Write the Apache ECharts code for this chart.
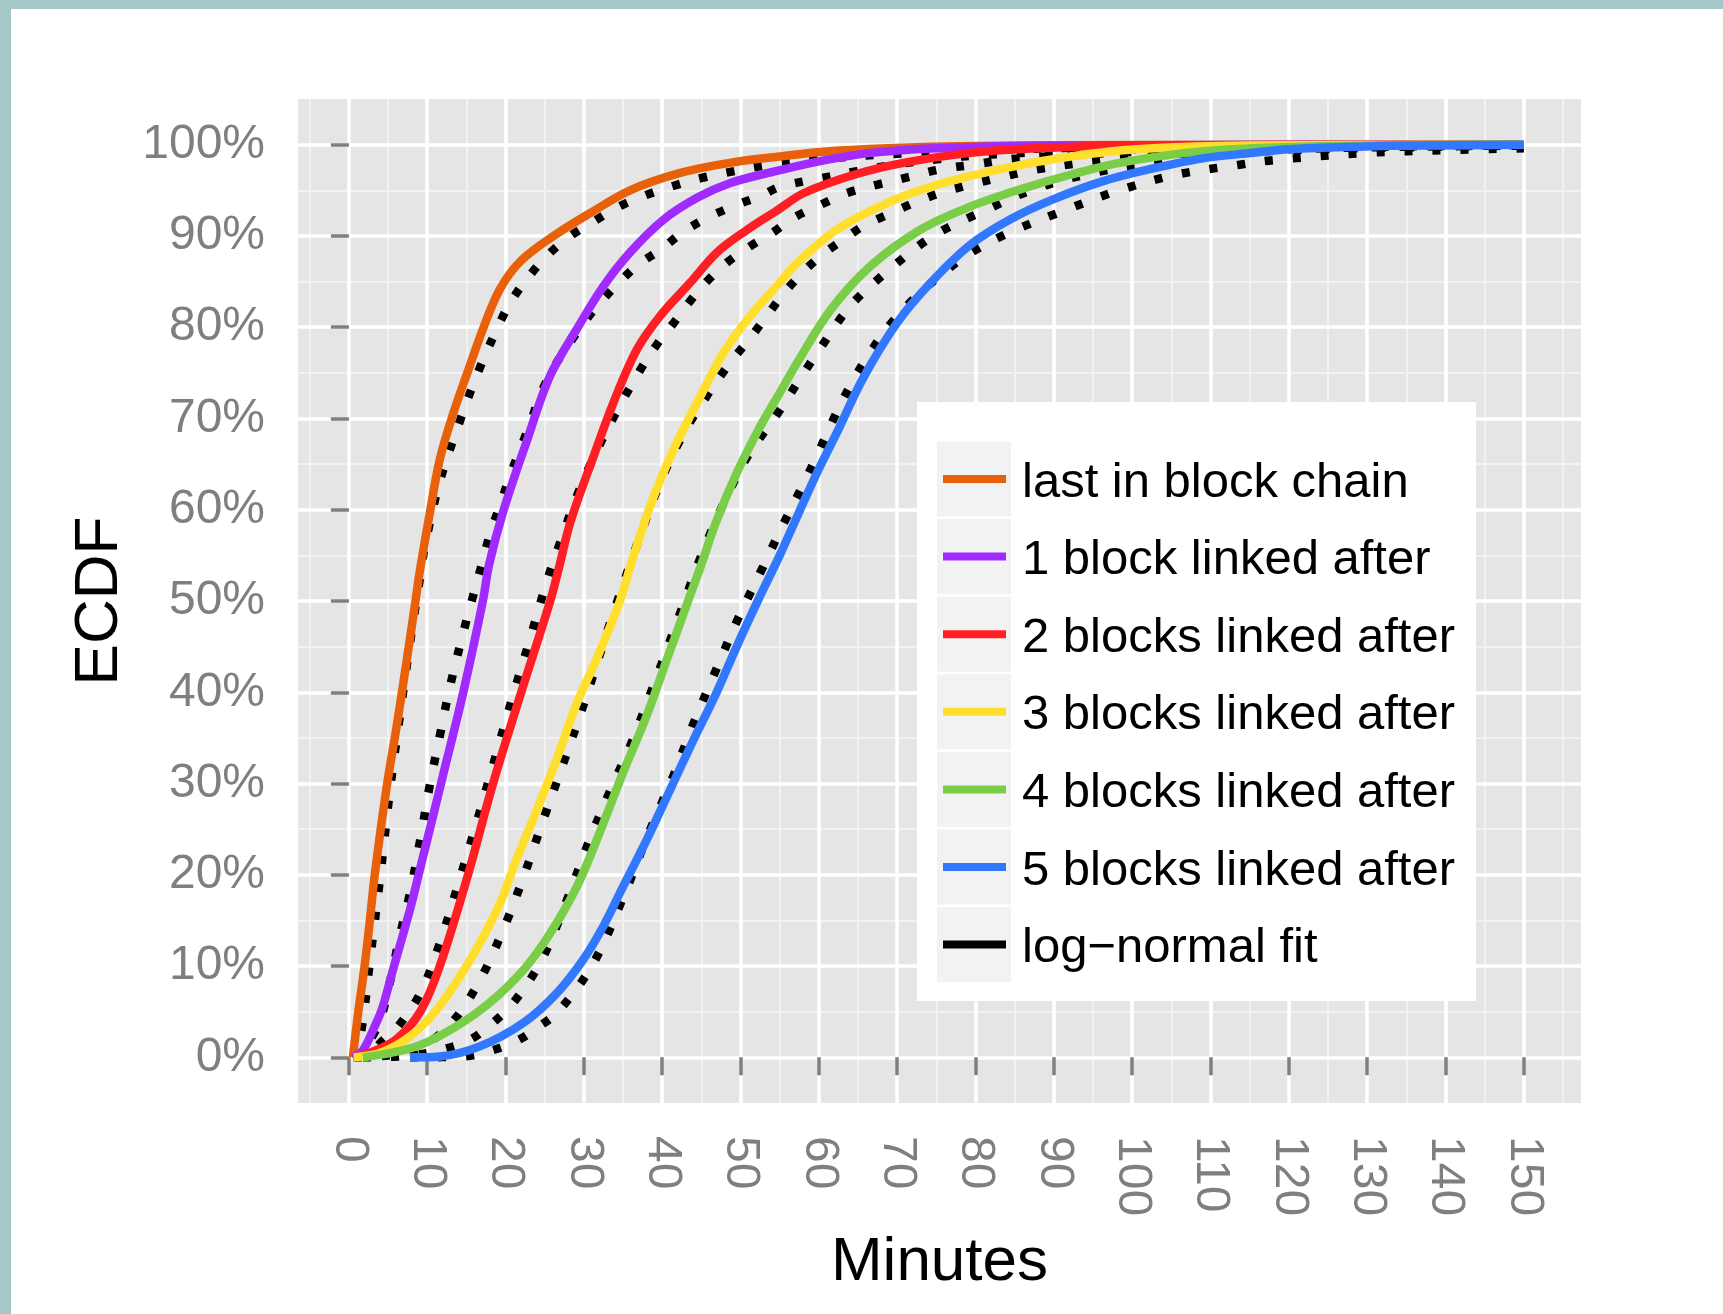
<!DOCTYPE html>
<html>
<head>
<meta charset="utf-8">
<script src="https://cdn.jsdelivr.net/npm/echarts@6.0.0/dist/echarts.min.js"></script>
<style>
html, body { margin: 0; padding: 0; background: #ffffff; }
#chart { width: 1723px; height: 1314px; }
</style>
</head>
<body>
<div id="chart"></div>
<script>
// ---------- data ----------
const seriesNames = ['last in block chain', '1 block linked after', '2 blocks linked after',
  '3 blocks linked after', '4 blocks linked after', '5 blocks linked after'];
const fitName = 'log\u2212normal fit';

const minuteTicks = [0, 10, 20, 30, 40, 50, 60, 70, 80, 90, 100, 110, 120, 130, 140, 150];
const minorMinuteLines = [-5, 5, 15, 25, 35, 45, 55, 65, 75, 85, 95, 105, 115, 125, 135, 145, 155];
const percentTicks = [0, 10, 20, 30, 40, 50, 60, 70, 80, 90, 100];
const minorPercentLines = [5, 15, 25, 35, 45, 55, 65, 75, 85, 95];

// empirical CDFs: [minutes, percent]
const lastInChain = [[0.5,0],[1.2,5],[2.0,10],[2.6,14.4],[3.3,20],[4.8,29.5],[6.1,36.3],[7.4,43.6],[8.5,50],[9.0,53],[10.2,59],[11.6,65.5],[13.3,70.5],[15.2,75.2],[17.2,80],[19.3,84.2],[22.0,87.3],[26.5,90.2],[30.8,92.5],[35.9,95.0],[42.3,96.9],[48.6,98.0],[55,98.7],[60.2,99.2],[68.7,99.6],[80,99.85],[100,99.95],[150,100]];
const oneBlock = [[0.5,0],[1.8,0.8],[3.5,3.8],[4.3,5.5],[5.6,9.5],[7.8,16.2],[8.9,20],[9.9,23.5],[11.9,30.5],[14.6,40],[17.1,50],[17.9,54],[19.7,59.8],[22.7,67.5],[25.7,74.7],[29.1,79.8],[32.5,84.5],[35.9,88.2],[40.2,91.8],[44.5,94.2],[48.7,95.8],[54.5,97.1],[60.2,98.2],[66.6,99.1],[75.1,99.6],[90,99.9],[150,100]];
const twoBlocks = [[0.6,0],[3.0,0.6],[6.1,2],[9.1,5],[11.6,10],[15.2,20],[18.4,30],[22.0,40],[25.7,50],[26.8,53.6],[28.3,58.7],[31.3,66],[33.8,71.8],[36.8,77.6],[39.8,81.3],[43.6,84.9],[47.0,88.2],[50.9,90.7],[54.5,92.7],[58.1,94.7],[64.5,96.7],[70.8,98],[79.3,99.1],[87.8,99.6],[100,99.9],[150,100]];
const threeBlocks = [[0.6,0],[4.0,0.5],[7.8,2.3],[11.2,5.2],[14.2,8.9],[16.7,12.5],[19.3,16.9],[21.4,21.7],[24.0,27.1],[26.5,32.6],[29.1,38.8],[31.6,43.6],[34.6,50],[36.0,54],[38.5,60.5],[41.5,66.7],[44.5,71.8],[47.9,77.3],[51.3,81.3],[54.5,84.4],[57.2,87.0],[62.3,90.7],[68.7,93.6],[75.1,95.6],[83.6,97.4],[92.1,98.7],[100.6,99.5],[115,99.9],[150,100]];
const fourBlocks = [[1.8,0],[8.6,1.2],[13.7,3.4],[18.0,6.0],[22.3,9.6],[25.7,13.6],[29.1,18.7],[32.0,24.6],[35.0,31.2],[38.0,37.4],[40.6,43.6],[43.3,50],[45.0,54],[46.8,58.5],[49.5,64],[52.3,68.8],[54.8,72.5],[57.5,76.5],[61.5,81.9],[66.6,86.7],[73.0,90.7],[79.3,93.2],[85.7,95.1],[92.1,96.7],[98.4,98.0],[106.9,99.1],[115.4,99.6],[130,99.9],[150,100]];
const fiveBlocks = [[7.8,0],[11.6,0.1],[16.7,1.2],[22.3,3.8],[26.5,7.0],[29.9,10.7],[32.5,14.4],[35.0,18.7],[38.0,23.8],[41.0,29.3],[44.0,34.8],[46.9,39.9],[49.5,45.0],[52.3,50.2],[55.0,55],[57.4,59.6],[59.9,64.3],[62.5,68.8],[65.7,74.5],[70.0,80.5],[74.2,84.8],[79.3,89.0],[84.4,91.8],[89.9,94.0],[96.3,96.0],[102.7,97.4],[109.0,98.5],[115.4,99.1],[120.1,99.5],[135,99.9],[150,100]];

// log-normal fits: [minutes, percent]
const fitLast = [[0.5,0],[1.2,1.5],[1.8,4.1],[2.7,10.7],[4.0,19.8],[5.2,29],[6.5,37.4],[7.8,45.4],[9.1,52.7],[9.7,56],[11.6,63.1],[14.0,69.3],[16.5,75.1],[19.5,80.9],[21.2,83.5],[23.2,85.8],[25.5,88],[28.3,90],[31.3,91.6],[34.2,93.1],[37.7,94.4],[41.5,95.5],[45.3,96.4],[49.2,97.1],[53.0,97.7],[60,98.4],[70,99.0],[85,99.5],[100,99.75],[150,99.95]];
const fitOne = [[0.5,0],[1.4,0.5],[2.7,1.9],[4.0,4.1],[5.2,8.1],[6.5,13.3],[7.8,18],[9.1,23.8],[10.3,29.7],[11.6,35.2],[12.9,40.6],[14.8,47.2],[16.9,53.8],[18.0,57.3],[19.3,60.5],[20.6,63.8],[21.9,66.7],[23.2,69.6],[24.4,72.5],[26.1,75.5],[28.3,78.4],[30.0,80.5],[32.1,82.7],[34.5,84.9],[37.0,86.9],[39.8,88.5],[42.6,90.4],[45.8,92.0],[49.2,93.3],[52.6,94.4],[55.1,95.4],[60.2,96.3],[64.9,97.1],[69.6,97.8],[75.1,98.4],[81.4,98.9],[100,99.5],[150,99.9]];
const fitTwo = [[0.6,0],[3.0,0.8],[4.4,1.9],[6.1,3.2],[9.1,7],[11.6,12.5],[14.0,19.1],[16.3,25.7],[18.6,32.6],[20.8,39.2],[23.1,45.8],[25.4,52.5],[27.0,56.5],[29.1,61.5],[31.5,66.2],[34.2,70.8],[37.4,75.6],[39.4,78.2],[41.5,80.5],[43.6,82.9],[45.8,85.1],[48.3,87.1],[51.3,88.9],[54.0,90.3],[56.8,92.0],[60.2,93.4],[63.6,94.7],[67.4,95.6],[71.7,96.5],[75.5,97.3],[79.7,97.8],[84.4,98.4],[89.1,98.7],[100,99.2],[120,99.7],[150,99.9]];
const fitThree = [[0.6,0],[5,0.2],[8.6,0.8],[12.9,3.6],[16.5,8.1],[19.7,14],[22.3,19.8],[24.8,26],[27.4,32.3],[29.9,38.5],[33.5,48],[36.3,55],[39.5,62.5],[42.5,68],[45.8,72.6],[48.5,75.9],[51.3,78.9],[53.4,81.3],[55.5,83.7],[57.7,85.8],[60.2,87.8],[62.8,89.4],[65.7,91.1],[68.7,92.3],[72.1,93.6],[75.5,94.7],[79.3,95.6],[83.6,96.5],[87.8,97.3],[98.4,98.5],[110,99.2],[130,99.7],[150,99.9]];
const fitFour = [[1.8,0],[8,0.2],[12.5,1.0],[15.4,1.9],[18,3.5],[21.0,6.0],[24.5,10.5],[27.5,16.5],[30.8,24.0],[33.5,29.5],[35.9,34.1],[39.0,41],[42.0,48],[45.0,55],[48.0,61],[51.0,66],[54.7,70.5],[57.7,74.5],[59.8,77.2],[64.0,82.3],[68.7,86.1],[74.6,90.0],[81.0,92.7],[87.4,95.1],[95.0,96.9],[103.9,98.2],[108.6,98.7],[120,99.4],[150,99.9]];
const fitFive = [[7.8,0],[14.6,0.1],[18.0,0.7],[21.4,1.8],[24,3.2],[26.9,5.2],[31.2,10.3],[35.0,17.5],[38.0,24.0],[41.4,30.8],[44.0,36.6],[46.9,42.5],[49.7,48.1],[52.9,53.8],[55.5,58.5],[57.9,62.6],[59.8,66.0],[61.9,70.0],[64.2,73.9],[66.6,77.3],[69.1,80.3],[72.0,83.0],[75.1,85.4],[79.3,88.1],[84.4,90.4],[90.8,92.6],[98.0,94.9],[105.6,96.7],[113.7,97.8],[118.0,98.3],[130,99.1],[140,99.4],[150,99.6]];

// ---------- styling ----------
const FONT = "'Liberation Sans', Arial, Helvetica, sans-serif";
const palette = ['#E8610A', '#A12BFF', '#FF1E23', '#FFDF2B', '#7ACD46', '#3278FF'];
const GREY_TEXT = '#7f7f7f';

const empirical = [lastInChain, oneBlock, twoBlocks, threeBlocks, fourBlocks, fiveBlocks];
const fits = [fitLast, fitOne, fitTwo, fitThree, fitFour, fitFive];

const series = [];
fits.forEach(function (d) {
  series.push({
    type: 'line', name: fitName, data: d, xAxisIndex: 0, yAxisIndex: 0,
    symbol: 'none', showSymbol: false, smooth: 0.35,
    color: '#000000', silent: true, z: 2,
    lineStyle: { color: '#000000', width: 8.5, type: [8, 20], cap: 'butt' }
  });
});
empirical.forEach(function (d, i) {
  series.push({
    type: 'line', name: seriesNames[i], data: d, xAxisIndex: 0, yAxisIndex: 0,
    symbol: 'none', showSymbol: false, smooth: 0.35,
    color: palette[i], silent: true, z: 3,
    lineStyle: { color: palette[i], width: 8.5, cap: 'butt' }
  });
});

// legend key backgrounds (layout only)
const keyBoxes = [];
for (let i = 0; i < 7; i++) {
  keyBoxes.push({
    type: 'rect', z: 11, silent: true,
    shape: { x: 937, y: 441.5 + 77.6 * i, width: 74, height: 75 },
    style: { fill: '#F2F2F2' }
  });
}

const chart = echarts.init(document.getElementById('chart'), null, { renderer: 'canvas' });
chart.setOption({
  animation: false,
  backgroundColor: '#ffffff',
  textStyle: { fontFamily: FONT },
  grid: {
    left: 298, top: 99, width: 1283, height: 1004,
    show: true, backgroundColor: '#E5E5E5', borderWidth: 0,
    containLabel: false, outerBoundsMode: 'none'
  },
  xAxis: [{
    type: 'value', gridIndex: 0, position: 'bottom', min: -6.5, max: 157.3, z: 1,
    axisLine: { show: false },
    axisTick: { show: true, customValues: minuteTicks, length: 18, inside: false,
      lineStyle: { color: GREY_TEXT, width: 3.5 } },
    axisLabel: { show: true, customValues: minuteTicks, rotate: -90, margin: 33,
      color: GREY_TEXT, fontSize: 48, fontFamily: FONT },
    splitLine: { show: true, lineStyle: { color: '#ffffff', width: 3.5 } },
    name: 'Minutes', nameLocation: 'middle', nameGap: 129,
    nameTextStyle: { color: '#000000', fontSize: 62, fontFamily: FONT }
  }, {
    type: 'value', gridIndex: 0, position: 'top', min: -6.5, max: 157.3, z: 0,
    axisLine: { show: false },
    axisTick: { show: false, customValues: minorMinuteLines },
    axisLabel: { show: false, customValues: minorMinuteLines },
    splitLine: { show: true, lineStyle: { color: '#F2F2F2', width: 2 } }
  }],
  yAxis: [{
    type: 'value', gridIndex: 0, position: 'left', min: -5, max: 105, z: 1,
    axisLine: { show: false },
    axisTick: { show: true, customValues: percentTicks, length: 18, inside: false,
      lineStyle: { color: GREY_TEXT, width: 3.5 } },
    axisLabel: { show: true, customValues: percentTicks, margin: 33,
      color: GREY_TEXT, fontSize: 48, fontFamily: FONT,
      formatter: function (v) { return v + '%'; } },
    splitLine: { show: true, lineStyle: { color: '#ffffff', width: 3.5 } },
    name: 'ECDF', nameLocation: 'middle', nameGap: 147,
    nameTextStyle: { color: '#000000', fontSize: 62, fontFamily: FONT }
  }, {
    type: 'value', gridIndex: 0, position: 'right', min: -5, max: 105, z: 0,
    axisLine: { show: false },
    axisTick: { show: false, customValues: minorPercentLines },
    axisLabel: { show: false, customValues: minorPercentLines },
    splitLine: { show: true, lineStyle: { color: '#F2F2F2', width: 2 } }
  }],
  legend: {
    show: true, orient: 'vertical', left: 943, top: 455, z: 12,
    padding: 0, itemGap: 21.6, itemWidth: 63, itemHeight: 16,
    // key stroke sits in the upper half of the icon box so the label centre is a bit lower
    icon: 'path://M0,16 M0,0 L63,0 L63,8 L0,8 Z', selectedMode: false,
    itemStyle: { borderWidth: 0 },
    textStyle: { color: '#000000', fontSize: 49, fontFamily: FONT, lineHeight: 56, padding: [0, 0, 0, 11] },
    data: seriesNames.concat([fitName])
  },
  graphic: {
    elements: [
      { type: 'rect', z: 1, silent: true, shape: { x: 0, y: 0, width: 1723, height: 9 }, style: { fill: '#A4C7C7' } },
      { type: 'rect', z: 1, silent: true, shape: { x: 0, y: 0, width: 11, height: 1314 }, style: { fill: '#A4C7C7' } },
      { type: 'rect', z: 10, silent: true, shape: { x: 917, y: 402, width: 559, height: 599 }, style: { fill: '#ffffff' } }
    ].concat(keyBoxes)
  },
  series: series
});
</script>
</body>
</html>
